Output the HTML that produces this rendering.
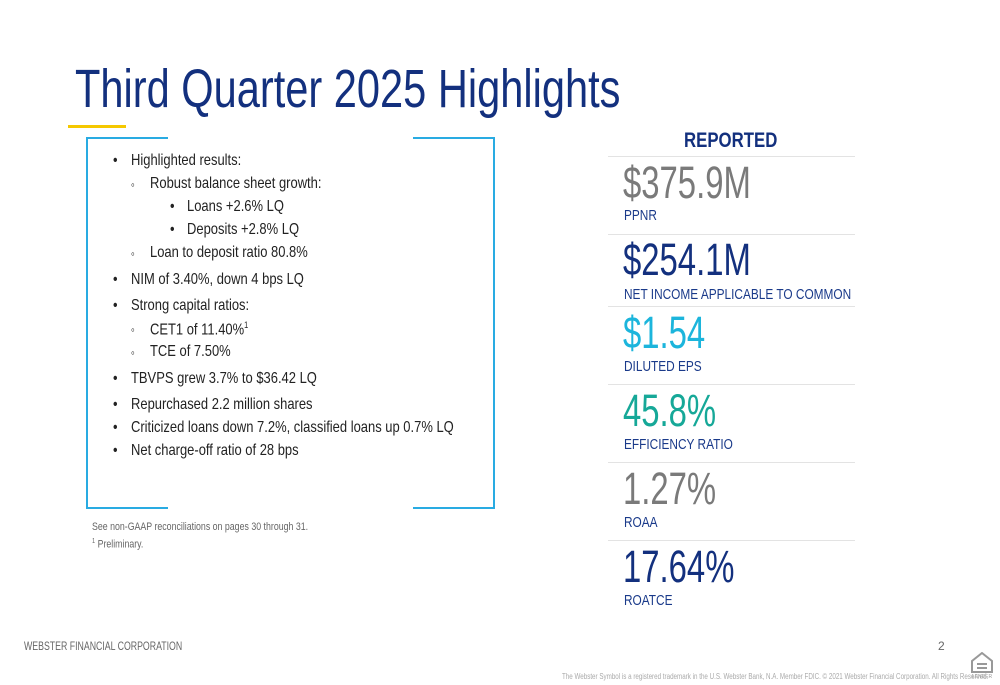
<!DOCTYPE html>
<html><head><meta charset="utf-8"><style>
body{margin:0;width:1000px;height:685px;background:#fff;position:relative;overflow:hidden;font-family:"Liberation Sans",sans-serif}
.a{position:absolute;white-space:nowrap;transform-origin:left center;line-height:1}
.t{font-size:16px;color:#222;transform:scaleX(.81)}
.big{font-size:45px;transform:scaleX(.73);font-weight:300}
.lab{font-size:15px;color:#1a3a8a;transform:scaleX(.79)}
.ln{position:absolute;background:#29abe2}
.sep{position:absolute;left:608px;width:247px;height:1px;background:#e3e3e3}
</style></head><body>
<div class="a" style="left:75px;top:62px;font-size:54px;color:#13307e;transform:scaleX(.77)">Third Quarter 2025 Highlights</div>
<div style="position:absolute;left:68px;top:125px;width:58px;height:3px;background:#f5c800"></div>

<div>
<div class="ln" style="left:86px;top:137px;width:82px;height:2px"></div>
<div class="ln" style="left:86px;top:137px;width:2px;height:372px"></div>
<div class="ln" style="left:86px;top:507px;width:82px;height:2px"></div>
<div class="ln" style="left:413px;top:137px;width:82px;height:2px"></div>
<div class="ln" style="left:493px;top:137px;width:2px;height:372px"></div>
<div class="ln" style="left:413px;top:507px;width:82px;height:2px"></div>
</div>

<div>
<div class="a t" style="left:113px;top:153px">•</div><div class="a t" style="left:131px;top:153px">Highlighted results:</div>
<div class="a t" style="left:131px;top:178px;font-size:13px">◦</div><div class="a t" style="left:150px;top:176px">Robust balance sheet growth:</div>
<div class="a t" style="left:170px;top:199px">•</div><div class="a t" style="left:187px;top:199px">Loans +2.6% LQ</div>
<div class="a t" style="left:170px;top:222px">•</div><div class="a t" style="left:187px;top:222px">Deposits +2.8% LQ</div>
<div class="a t" style="left:131px;top:247px;font-size:13px">◦</div><div class="a t" style="left:150px;top:245px">Loan to deposit ratio 80.8%</div>
<div class="a t" style="left:113px;top:272px">•</div><div class="a t" style="left:131px;top:272px">NIM of 3.40%, down 4 bps LQ</div>
<div class="a t" style="left:113px;top:298px">•</div><div class="a t" style="left:131px;top:298px">Strong capital ratios:</div>
<div class="a t" style="left:131px;top:323px;font-size:13px">◦</div><div class="a t" style="left:150px;top:321px">CET1 of 11.40%<sup style="font-size:9px">1</sup></div>
<div class="a t" style="left:131px;top:346px;font-size:13px">◦</div><div class="a t" style="left:150px;top:344px">TCE of 7.50%</div>
<div class="a t" style="left:113px;top:371px">•</div><div class="a t" style="left:131px;top:371px">TBVPS grew 3.7% to $36.42 LQ</div>
<div class="a t" style="left:113px;top:397px">•</div><div class="a t" style="left:131px;top:397px">Repurchased 2.2 million shares</div>
<div class="a t" style="left:113px;top:420px">•</div><div class="a t" style="left:131px;top:420px">Criticized loans down 7.2%, classified loans up 0.7% LQ</div>
<div class="a t" style="left:113px;top:443px">•</div><div class="a t" style="left:131px;top:443px">Net charge-off ratio of 28 bps</div>
</div>

<div class="a" style="left:92px;top:522px;font-size:11px;color:#666;transform:scaleX(.8)">See non-GAAP reconciliations on pages 30 through 31.</div>
<div class="a" style="left:92px;top:538px;font-size:11px;color:#666;transform:scaleX(.8)"><sup style="font-size:7px">1</sup> Preliminary.</div>

<div class="a" style="left:684px;top:130px;font-size:21px;font-weight:bold;color:#13307e;transform:scaleX(.8)">REPORTED</div>
<div class="sep" style="top:156px"></div>
<div class="sep" style="top:234px"></div>
<div class="sep" style="top:306px"></div>
<div class="sep" style="top:384px"></div>
<div class="sep" style="top:462px"></div>
<div class="sep" style="top:540px"></div>

<div class="a big" style="left:623px;top:160px;color:#7a7a7a">$375.9M</div>
<div class="a lab" style="left:624px;top:208px">PPNR</div>
<div class="a big" style="left:623px;top:237px;color:#13307e">$254.1M</div>
<div class="a lab" style="left:624px;top:287px">NET INCOME APPLICABLE TO COMMON</div>
<div class="a big" style="left:623px;top:310px;color:#1cb5dc">$1.54</div>
<div class="a lab" style="left:624px;top:359px">DILUTED EPS</div>
<div class="a big" style="left:623px;top:388px;color:#16a898">45.8%</div>
<div class="a lab" style="left:624px;top:437px">EFFICIENCY RATIO</div>
<div class="a big" style="left:623px;top:466px;color:#7a7a7a">1.27%</div>
<div class="a lab" style="left:624px;top:515px">ROAA</div>
<div class="a big" style="left:623px;top:544px;color:#13307e">17.64%</div>
<div class="a lab" style="left:624px;top:593px">ROATCE</div>

<div class="a" style="left:24px;top:640px;font-size:12px;color:#666;transform:scaleX(.73)">WEBSTER FINANCIAL CORPORATION</div>
<div class="a" style="left:938px;top:640px;font-size:12px;color:#666">2</div>
<div class="a" style="left:562px;top:673px;font-size:8px;color:#aaa;transform:scaleX(.78)">The Webster Symbol is a registered trademark in the U.S. Webster Bank, N.A. Member FDIC. © 2021 Webster Financial Corporation. All Rights Reserved.</div>
<svg style="position:absolute;left:971px;top:652px" width="22" height="28" viewBox="0 0 22 28">
<path d="M11 1 L21 9 L21 20 L1 20 L1 9 Z" fill="none" stroke="#999" stroke-width="2"/>
<rect x="6" y="11" width="10" height="2" fill="#999"/><rect x="6" y="15" width="10" height="2" fill="#999"/>
<text x="11" y="26" font-size="5" text-anchor="middle" fill="#999" font-family="Liberation Sans">LENDER</text>
</svg>
</body></html>
